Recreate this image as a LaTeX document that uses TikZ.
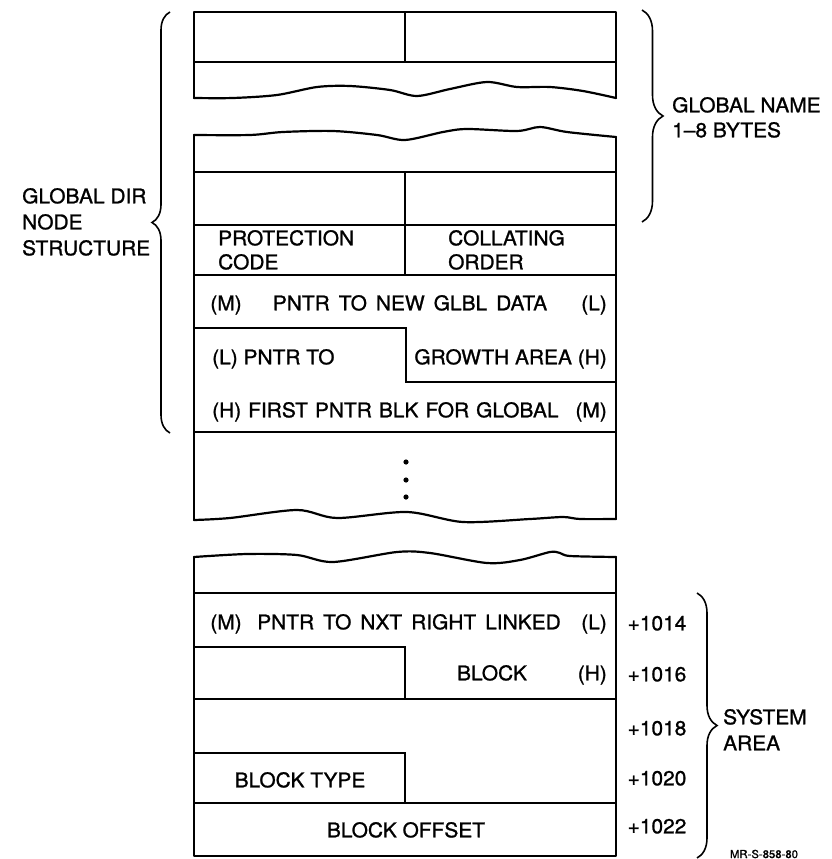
\documentclass[tikz,border=0pt]{standalone}
\usepackage{fontspec}
\setmainfont{TeX Gyre Heros}[FakeBold=1.1, FakeStretch=1.03]
\usetikzlibrary{decorations.pathreplacing}
\newcommand\mywidesp{\spaceskip 9pt\relax}
\newcommand\mymidsp{\spaceskip 7pt\relax}
\begin{document}
\begin{tikzpicture}[x=1pt,y=-1pt,
  frame/.style={line width=2.4pt, line join=round, line cap=round},
  inner/.style={line width=1.8pt},
  wave/.style={line width=2.2pt, line join=round, line cap=round},
  txt/.style={font=\fontsize{20.3}{24}\selectfont, inner sep=0pt, text height=14.6pt, text depth=0pt},
  wide/.style={font={\fontsize{20.3}{24}\selectfont\mywidesp}},
  midwide/.style={font={\fontsize{20.3}{24}\selectfont\mymidsp}},
  small/.style={font=\fontsize{11}{13}\selectfont, inner sep=0pt},
  br/.style={decorate, decoration={brace, amplitude=#1}, line width=1.6pt}]
\useasboundingbox (0,0) rectangle (831,859);

% ---------- block 1 ----------
\draw[frame] (194,98) -- (194,12) -- (616,12) -- (616,98);
\draw[wave] plot[smooth, tension=0.5] coordinates {(194,98) (233,98) (277,95) (317,87) (350,86) (390,90) (417,96) (450,89) (487,82) (517,87) (550,87) (583,91) (616,98)};
\draw[inner] (194,62) -- (616,62);
\draw[inner] (405,12) -- (405,62);

% ---------- block 2 ----------
\draw[frame] (194,135) -- (194,520);
\draw[frame] (616,137) -- (616,519);
\draw[wave] plot[smooth, tension=0.5] coordinates {(194,135) (250,135) (283,132) (333,131) (377,135) (405,140) (443,132) (467,129) (517,131) (540,127) (567,132) (616,137)};
\draw[inner] (194,172) -- (616,172);
\draw[inner] (194,225) -- (616,225);
\draw[inner] (194,275) -- (616,275);
\draw[inner] (405,172) -- (405,275);
\draw[inner] (194,328) -- (406,328) -- (406,382) -- (616,382);
\draw[inner] (194,432) -- (616,432);
\draw[wave] plot[smooth, tension=0.5] coordinates {(194,520) (230,518) (297,510) (337,518) (407,512) (463,522) (530,519) (563,517) (580,519) (616,519)};
\fill (406,462) circle (2.6) (406,480) circle (2.6) (406,497) circle (2.6);

% ---------- block 3 ----------
\draw[frame] (194,557) -- (194,856) -- (616,856) -- (616,557);
\draw[wave] plot[smooth, tension=0.5] coordinates {(194,557) (247,554) (297,555) (333,562) (397,552) (430,553) (487,563) (520,560) (550,552) (560,553) (570,556) (616,557)};
\draw[inner] (194,593) -- (616,593);
\draw[inner] (194,647) -- (405,647) -- (405,699);
\draw[inner] (194,699) -- (616,699);
\draw[inner] (194,753) -- (405,753) -- (405,803);
\draw[inner] (194,803) -- (616,803);

% ---------- texts in boxes ----------
\node[txt, anchor=west] (prot1) at (218,238) {PROTECTION};
\node[txt, anchor=west] (prot2) at (218,262) {CODE};
\node[txt, anchor=west] (coll1) at (448,238) {COLLATING};
\node[txt, anchor=west] (coll2) at (448,262) {ORDER};
\node[txt] (m1) at (226,303) {(M)};
\node[txt, wide] (newd) at (410,303) {PNTR TO NEW GLBL DATA};
\node[txt, anchor=east] (l1) at (607,303) {(L)};
\node[txt, anchor=west] (pntrto) at (212,357) {(L) PNTR TO};
\node[txt, anchor=east] (growth) at (607,357) {GROWTH AREA (H)};
\node[txt, midwide, anchor=west] (first) at (212,410) {(H) FIRST PNTR BLK FOR GLOBAL};
\node[txt, anchor=east] (m2) at (607,410) {(M)};

\node[txt] (m3) at (226,622) {(M)};
\node[txt, wide] (nxt) at (409,622) {PNTR TO NXT RIGHT LINKED};
\node[txt, anchor=east] (l3) at (607,622) {(L)};
\node[txt] (blk) at (492,673) {BLOCK};
\node[txt, anchor=east] (h3) at (607,673) {(H)};
\node[txt] (btype) at (300,780) {BLOCK TYPE};
\node[txt] (boff) at (406,830) {BLOCK OFFSET};

% ---------- offsets ----------
\node[txt] (o14) at (657,623) {+1014};
\node[txt] (o16) at (657,674) {+1016};
\node[txt] (o18) at (657,728) {+1018};
\node[txt] (o20) at (657,778) {+1020};
\node[txt] (o22) at (657,826) {+1022};

% ---------- braces ----------
\draw[br=21] (642,10) -- (642,222);
\draw[br=18] (170,433) -- (170,12);
\draw[br=20] (697,593) -- (697,858);

% ---------- side labels ----------
\node[txt, anchor=west] (gn1) at (672,105) {GLOBAL NAME};
\node[txt, anchor=west] (gn2) at (672,130) {1--8 BYTES};
\node[txt, anchor=west] (gd1) at (22,196) {GLOBAL DIR};
\node[txt, anchor=west] (gd2) at (22,222) {NODE};
\node[txt, anchor=west] (gd3) at (22,248) {STRUCTURE};
\node[txt, anchor=west] (sa1) at (723,717) {SYSTEM};
\node[txt, anchor=west] (sa2) at (723,743) {AREA};
\node[small] (mr) at (764,854) {MR-S-858-80};
\end{tikzpicture}
\end{document}
